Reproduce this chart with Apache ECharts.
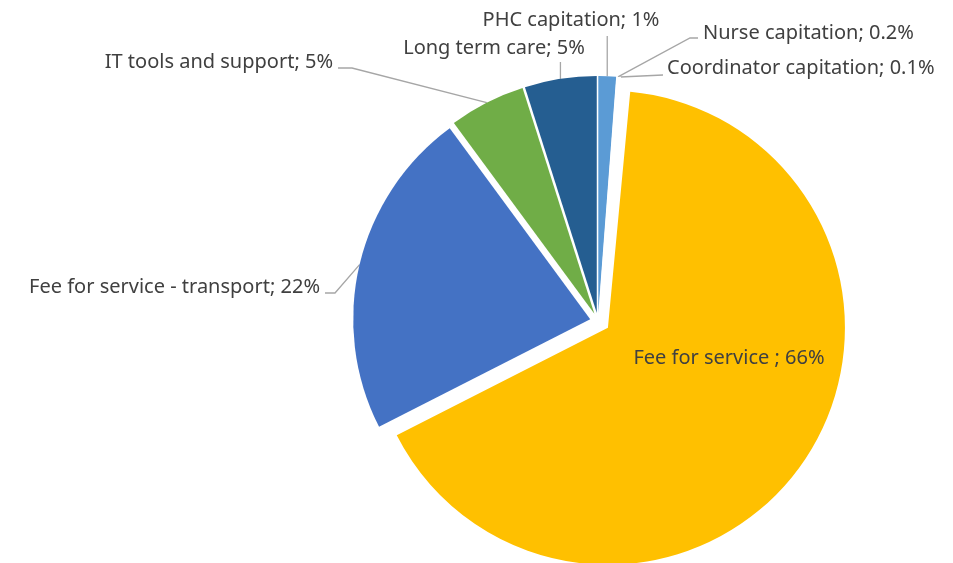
<!DOCTYPE html>
<html>
<head>
<meta charset="utf-8">
<script src="https://cdn.jsdelivr.net/npm/echarts@6/dist/echarts.min.js"></script>
<style>
html,body{margin:0;padding:0;background:#fff;}
#chart{width:953px;height:563px;}
</style>
</head>
<body>
<div id="chart"></div>
<script>
// ---- data ----
const categories = ['PHC capitation', 'Nurse capitation', 'Coordinator capitation', 'Fee for service ', 'Fee for service - transport', 'IT tools and support', 'Long term care'];
const shares = [1.2, 0.2, 0.1, 66, 22.4, 5.2, 4.9];
const shareLabels = ['1%', '0.2%', '0.1%', '66%', '22%', '5%', '5%'];

// ---- styles / layout ----
const colors = ['#5B9BD5', '#FFFFFF', '#FFFFFF', '#FFC000', '#4472C4', '#70AD47', '#255E91'];
const mainIndex = 3; // the large exploded slice
const CENTER = [598, 321];
const RADIUS = 237;
// label placement: anchor (x,y), alignment and leader-line bends
const labelPlacement = [
  { x: 571, y: 20, align: 'center', bends: 'vertical', endY: 36 },
  { x: 703, y: 33, align: 'left', bends: [[690, 38], [698, 38]] },
  { x: 667, y: 68, align: 'left', bends: [[663, 75]] },
  { x: 729, y: 358, align: 'center', bends: null },
  { x: 320, y: 287, align: 'right', bends: [[335, 293], [325, 293]] },
  { x: 333, y: 62, align: 'right', bends: [[352, 68], [338, 68]] },
  { x: 494, y: 48, align: 'center', bends: 'vertical', endY: 62 }
];

const FONT = 'Noto Sans';
const chart = echarts.init(document.getElementById('chart'), null, { renderer: 'canvas' });

function sliceData(visibleFn, selectedFn) {
  return categories.map((c, i) => ({
    name: c,
    value: shares[i],
    selected: selectedFn(i),
    itemStyle: { color: visibleFn(i) ? colors[i] : 'rgba(0,0,0,0)' }
  }));
}

const common = {
  type: 'pie',
  center: CENTER,
  radius: RADIUS,
  startAngle: 90,
  clockwise: true,
  avoidLabelOverlap: false,
  selectedMode: 'multiple',
  emphasis: { disabled: true },
  label: { show: false },
  labelLine: { show: false },
  animation: false
};

const option = {
  backgroundColor: '#ffffff',
  animation: false,
  series: [
    Object.assign({}, common, {
      name: 'slices',
      selectedOffset: 8,
      data: sliceData(i => i !== mainIndex, i => i !== mainIndex)
    }),
    Object.assign({}, common, {
      name: 'main',
      selectedOffset: 12,
      data: sliceData(i => i === mainIndex, i => i === mainIndex)
    }),
    {
      type: 'pie',
      name: 'labels',
      center: CENTER,
      radius: RADIUS + 8,
      startAngle: 90,
      clockwise: true,
      silent: true,
      avoidLabelOverlap: false,
      emphasis: { disabled: true },
      itemStyle: { color: 'rgba(0,0,0,0)' },
      label: {
        show: true,
        position: 'outside',
        fontFamily: FONT,
        fontSize: 20,
        color: '#404040',
        formatter: p => categories[p.dataIndex] + '; ' + shareLabels[p.dataIndex]
      },
      labelLine: {
        show: true,
        length: 10,
        length2: 10,
        lineStyle: { color: '#A6A6A6', width: 1.3 }
      },
      labelLayout: function (params) {
        const lp = labelPlacement[params.dataIndex];
        const out = { x: lp.x, y: lp.y, align: lp.align, verticalAlign: 'middle' };
        const pts = params.labelLinePoints;
        if (pts && lp.bends) {
          const start = pts[0];
          if (lp.bends === 'vertical') {
            out.labelLinePoints = [start, [start[0], lp.endY]];
          } else {
            out.labelLinePoints = [start].concat(lp.bends);
          }
        }
        return out;
      },
      data: categories.map((c, i) => ({
        name: c,
        value: shares[i],
        labelLine: { show: labelPlacement[i].bends !== null }
      })),
      animation: false
    }
  ]
};
chart.setOption(option);
</script>
</body>
</html>
